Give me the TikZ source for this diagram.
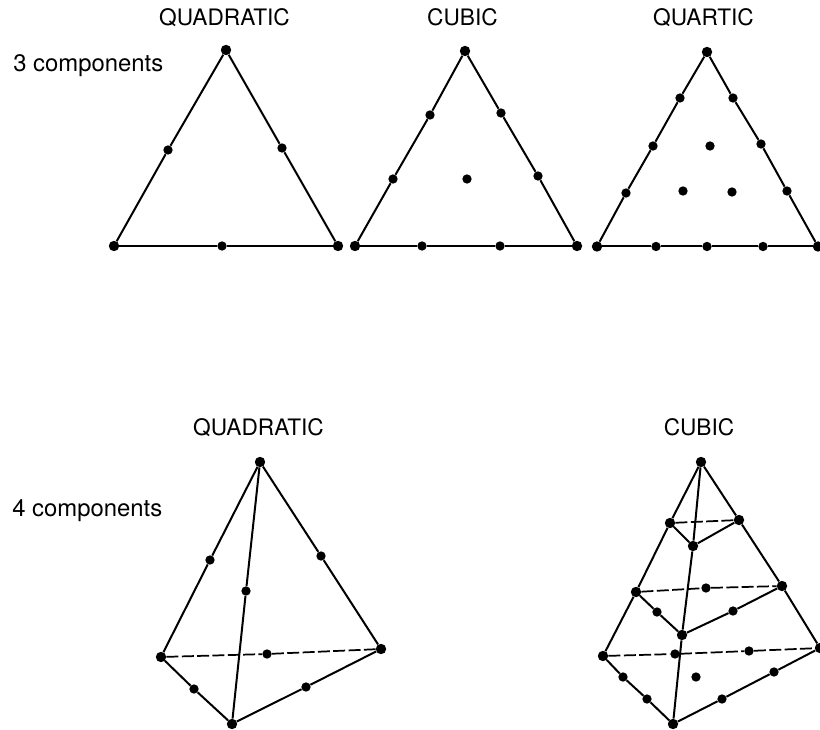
\documentclass[tikz,border=0pt]{standalone}
\usepackage{fontspec}
\setmainfont{TeX Gyre Heros}
\usepackage{tikz}
\begin{document}
\begin{tikzpicture}[
  x=0.75pt, y=-0.75pt,
  font=\fontsize{17}{19}\selectfont,
  dot/.style={circle, fill=black, inner sep=0pt, minimum size=7pt},
  vtx/.style={dot, minimum size=7.8pt},
  lbl/.style={inner sep=0pt, anchor=base},
  side/.style={anchor=base west, inner sep=0pt, font=\fontsize{17.9}{20}\selectfont},
  edge/.style={draw, line width=1.5pt},
  hid/.style={draw, line width=1.3pt, dash pattern=on 9pt off 2.5pt},
]
\useasboundingbox (0,0) rectangle (820,730);

% headings
\node[lbl] (h1) at (224.5,25.5) {QUADRATIC};
\node[lbl] (h2) at (462.5,25.5) {CUBIC};
\node[lbl] (h3) at (703.5,25.5) {QUARTIC};
\node[lbl] (h4) at (258.5,435) {QUADRATIC};
\node[lbl] (h5) at (699,435) {CUBIC};
\node[side] (c3) at (13,72) {3 components};
\node[side] (c4) at (12,516) {4 components};

% triangles
\foreach \n/\x/\y in {a1/226/50,a2/114/246,a3/338/246,
                      b1/465/51,b2/355/246,b3/577/246,
                      d1/707/52,d2/597/246.5,d3/818/246.5}
  \node[vtx] (\n) at (\x,\y) {};
\foreach \n/\x/\y in {am1/168/150,am2/282/148,am3/222/246,
                      bm1/430/115,bm2/393/179,bm3/501/113,bm4/538/176,bm5/422/246,bm6/500/246,bm7/467/179,
                      dm1/680/98,dm2/653/146,dm3/626/193,dm4/733/98,dm5/761/144,dm6/787/191,
                      dm7/656/246.5,dm8/707/246.5,dm9/763/246.5,dm10/710/146,dm11/683/191,dm12/732/192}
  \node[dot] (\n) at (\x,\y) {};
\foreach \a/\b in {a1/am1,am1/a2,a1/am2,am2/a3,a2/am3,am3/a3,
                   b1/bm1,bm1/bm2,bm2/b2,b1/bm3,bm3/bm4,bm4/b3,b2/bm5,bm5/bm6,bm6/b3,
                   d1/dm1,dm1/dm2,dm2/dm3,dm3/d2,d1/dm4,dm4/dm5,dm5/dm6,dm6/d3,
                   d2/dm7,dm7/dm8,dm8/dm9,dm9/d3}
  \draw[edge] (\a) -- (\b);

% quadratic tetrahedron
\foreach \n/\x/\y in {p1/260/462,p2/161/657,p3/381/649,p4/232/724}
  \node[vtx] (\n) at (\x,\y) {};
\foreach \n/\x/\y in {pm1/210/560,pm2/321/556,pm3/246/591,pm4/267/654,pm5/194/689,pm6/306/687}
  \node[dot] (\n) at (\x,\y) {};
\foreach \a/\b in {p1/pm1,pm1/p2,p1/pm2,pm2/p3,p1/pm3,pm3/p4,p2/pm5,pm5/p4,p4/pm6,pm6/p3}
  \draw[edge] (\a) -- (\b);
\draw[hid] (p2) -- (pm4);
\draw[hid] (pm4) -- (p3);

% cubic tetrahedron
\foreach \n/\x/\y in {q1/701/462,q2/603/656,q3/820/648,q4/673/724,
                      r1/670/523,r2/739/520,r3/693/546,s1/636/592,s2/782/586,s3/682/635}
  \node[vtx] (\n) at (\x,\y) {};
\foreach \n/\x/\y in {sm1/706/588,sm2/657/612,sm3/733/611,
                      qm1/675/654,qm2/749/651,qm3/696/677,qm4/623/677,qm5/647/699,qm6/722/699,qm7/774/672}
  \node[dot] (\n) at (\x,\y) {};
\foreach \a/\b in {q1/r1,r1/s1,s1/q2,q1/r2,r2/s2,s2/q3,q1/r3,r3/s3,s3/q4,
                   r1/r3,r3/r2,s1/sm2,sm2/s3,s3/sm3,sm3/s2,
                   q2/qm4,qm4/qm5,qm5/q4,q4/qm6,qm6/qm7,qm7/q3}
  \draw[edge] (\a) -- (\b);
\foreach \a/\b in {r1/r2,s1/sm1,sm1/s2,q2/qm1,qm1/qm2,qm2/q3}
  \draw[hid] (\a) -- (\b);
\end{tikzpicture}
\end{document}
